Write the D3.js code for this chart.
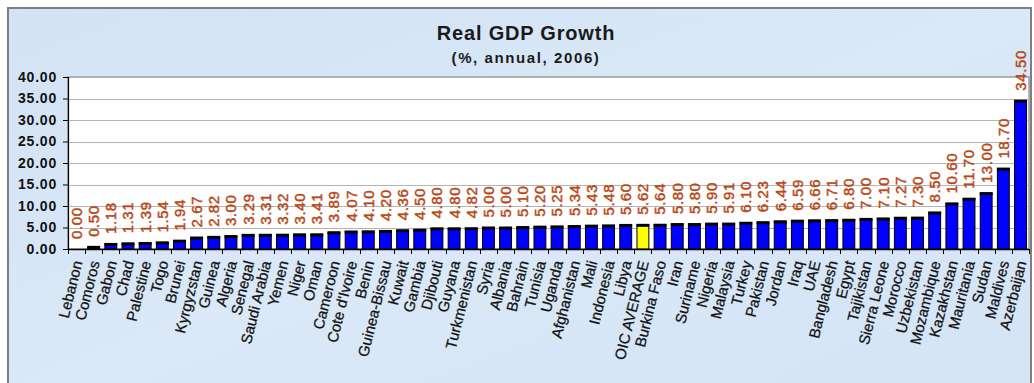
<!DOCTYPE html>
<html>
<head>
<meta charset="utf-8">
<script src="https://cdn.jsdelivr.net/npm/d3@7"></script>
<style>
  html, body { margin: 0; padding: 0; background: #ffffff; }
  svg { display: block; font-family: "Liberation Sans", Arial, sans-serif; }
</style>
</head>
<body>
<svg id="chart" width="1034" height="383"></svg>
<script>
// Real GDP growth by country, 2006 (% annual)
const countries = [
  "Lebanon", "Comoros", "Gabon", "Chad", "Palestine", "Togo", "Brunei",
  "Kyrgyzstan", "Guinea", "Algeria", "Senegal", "Saudi Arabia", "Yemen",
  "Niger", "Oman", "Cameroon", "Cote d'Ivoire", "Benin", "Guinea-Bissau",
  "Kuwait", "Gambia", "Djibouti", "Guyana", "Turkmenistan", "Syria",
  "Albania", "Bahrain", "Tunisia", "Uganda", "Afghanistan", "Mali",
  "Indonesia", "Libya", "OIC AVERAGE", "Burkina Faso", "Iran", "Suriname",
  "Nigeria", "Malaysia", "Turkey", "Pakistan", "Jordan", "Iraq", "UAE",
  "Bangladesh", "Egypt", "Tajikistan", "Sierra Leone", "Morocco",
  "Uzbekistan", "Mozambique", "Kazakhstan", "Mauritania", "Sudan",
  "Maldives", "Azerbaijan"
];
const growth = [
  0.00, 0.50, 1.18, 1.31, 1.39, 1.54, 1.94,
  2.67, 2.82, 3.00, 3.29, 3.31, 3.32,
  3.40, 3.41, 3.89, 4.07, 4.10, 4.20,
  4.36, 4.50, 4.80, 4.80, 4.82, 5.00,
  5.00, 5.10, 5.20, 5.25, 5.34, 5.43,
  5.48, 5.60, 5.62, 5.64, 5.80, 5.80,
  5.90, 5.91, 6.10, 6.23, 6.44, 6.59, 6.66,
  6.71, 6.80, 7.00, 7.10, 7.27,
  7.30, 8.50, 10.60, 11.70, 13.00,
  18.70, 34.50
];
const highlighted = ["OIC AVERAGE"];
const yTicks = [0, 5, 10, 15, 20, 25, 30, 35, 40];
const titleText = "Real GDP Growth";
const subtitleText = "(%, annual, 2006)";

const data = countries.map((c, i) => ({ country: c, value: growth[i] }));

const svg = d3.select("#chart");
const plot = { left: 68, right: 1029, top: 77, bottom: 249 };

// Panel background with soft blue gradient
const defs = svg.append("defs");
const grad = defs.append("linearGradient").attr("id", "panelBg")
  .attr("x1", "0").attr("y1", "0").attr("x2", "1").attr("y2", "1");
grad.append("stop").attr("offset", "0%").attr("stop-color", "#d3e3f4");
grad.append("stop").attr("offset", "50%").attr("stop-color", "#dae8f7");
grad.append("stop").attr("offset", "100%").attr("stop-color", "#d4e4f5");

svg.append("rect").attr("x", 8).attr("y", 8).attr("width", 1023).attr("height", 400)
  .attr("fill", "url(#panelBg)").attr("stroke", "#7f7f7f").attr("stroke-width", 2);

// Titles
svg.append("text").attr("x", 526).attr("y", 40).attr("text-anchor", "middle")
  .attr("font-size", 20).attr("font-weight", "bold").attr("letter-spacing", 0.8)
  .attr("fill", "#1a1a1a").text(titleText);
svg.append("text").attr("x", 526).attr("y", 63).attr("text-anchor", "middle")
  .attr("font-size", 15).attr("font-weight", "bold").attr("letter-spacing", 1.6)
  .attr("fill", "#1a1a1a").text(subtitleText);

// Scales
const x = d3.scaleBand().domain(countries)
  .range([plot.left, plot.right]).paddingInner(0.25).paddingOuter(0.12);
const y = d3.scaleLinear().domain([0, 40]).range([plot.bottom, plot.top]);

// Plot area
svg.append("rect").attr("x", plot.left).attr("y", plot.top)
  .attr("width", plot.right - plot.left).attr("height", plot.bottom - plot.top)
  .attr("fill", "#fefefe").attr("stroke", "#9a9a9a").attr("stroke-width", 1.5);

// Gridlines
svg.append("g").selectAll("line").data(yTicks.filter(t => t > 0 && t < 40)).join("line")
  .attr("x1", plot.left).attr("x2", plot.right)
  .attr("y1", d => Math.round(y(d)) + 0.5).attr("y2", d => Math.round(y(d)) + 0.5)
  .attr("stroke", "#b4b4b4").attr("stroke-width", 1.2);

// Y axis
const yAxis = svg.append("g").attr("transform", `translate(${plot.left},0)`)
  .call(d3.axisLeft(y).tickValues(yTicks).tickFormat(d3.format(".2f")).tickSize(5).tickPadding(6));
yAxis.select(".domain").attr("stroke", "#000").attr("stroke-width", 1.2);
yAxis.selectAll(".tick line").attr("stroke", "#000");
yAxis.selectAll(".tick text").attr("font-size", 14).attr("font-weight", "bold")
  .attr("letter-spacing", 0.8).attr("fill", "#111").attr("font-family", "Liberation Sans, Arial, sans-serif");

// Bars: black outline with a heavier top edge
const bars = svg.append("g");
bars.selectAll("rect.bar").data(data).join("rect").attr("class", "bar")
  .attr("x", d => x(d.country) + 0.5)
  .attr("y", d => y(d.value))
  .attr("width", x.bandwidth() - 1)
  .attr("height", d => y(0) - y(d.value))
  .attr("fill", d => highlighted.includes(d.country) ? "#ffff00" : "#0000ff")
  .attr("stroke", "#000").attr("stroke-width", 1)
  .style("display", d => d.value > 0 ? null : "none");
bars.selectAll("rect.cap").data(data.filter(d => d.value > 0)).join("rect").attr("class", "cap")
  .attr("x", d => x(d.country))
  .attr("y", d => y(d.value) - 1)
  .attr("width", x.bandwidth())
  .attr("height", 3)
  .attr("fill", "#000");

// X axis with ticks between categories
svg.append("line").attr("x1", plot.left).attr("x2", plot.right)
  .attr("y1", plot.bottom + 0.5).attr("y2", plot.bottom + 0.5)
  .attr("stroke", "#000").attr("stroke-width", 1.5);
const bounds = countries.map(c => x(c) - x.step() * x.paddingInner() / 2);
bounds.push(plot.right);
svg.append("g").selectAll("line").data(bounds).join("line")
  .attr("x1", d => Math.round(d) + 0.5).attr("x2", d => Math.round(d) + 0.5)
  .attr("y1", plot.bottom).attr("y2", plot.bottom + 5)
  .attr("stroke", "#000");

// Category labels, rotated
svg.append("g").selectAll("text").data(countries).join("text")
  .attr("transform", c => `translate(${x(c) + x.bandwidth() / 2 + 1},${plot.bottom + 12}) rotate(-76)`)
  .attr("text-anchor", "end").attr("dy", "0.35em")
  .attr("font-size", 15).attr("fill", "#111")
  .attr("stroke", "#111").attr("stroke-width", 0.25)
  .text(c => c);

// Value labels above bars
svg.append("g").selectAll("text").data(data).join("text")
  .attr("transform", d => `translate(${x(d.country) + x.bandwidth() / 2},${y(d.value) - 10}) rotate(-90)`)
  .attr("text-anchor", "start").attr("dy", "0.36em")
  .attr("font-size", 15).attr("letter-spacing", 0.6).attr("fill", "#b84818")
  .attr("stroke", "#b84818").attr("stroke-width", 0.45)
  .text(d => d3.format(".2f")(d.value));
</script>
</body>
</html>
